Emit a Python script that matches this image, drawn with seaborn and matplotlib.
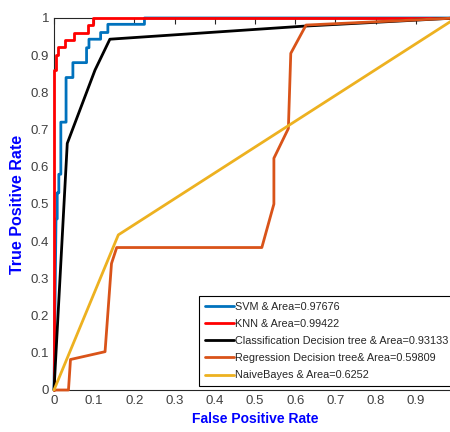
import pandas as pd
import matplotlib
matplotlib.use('Agg')
import matplotlib.pyplot as plt
import seaborn as sns

# curvas ROC
svm_fpr = [0, 0.005, 0.008, 0.008, 0.012, 0.012, 0.017, 0.017, 0.03, 0.03, 0.047, 0.047,
           0.081, 0.081, 0.087, 0.087, 0.116, 0.116, 0.134, 0.134, 0.225, 0.225, 1]
svm_tpr = [0, 0.46, 0.46, 0.53, 0.53, 0.58, 0.58, 0.72, 0.72, 0.84, 0.84, 0.88,
           0.88, 0.92, 0.92, 0.943, 0.943, 0.961, 0.961, 0.983, 0.983, 1, 1]

knn_fpr = [0, 0, 0.004, 0.004, 0.011, 0.011, 0.027, 0.027, 0.05, 0.05, 0.085, 0.085,
           0.096, 0.096, 1]
knn_tpr = [0, 0.86, 0.86, 0.9, 0.9, 0.923, 0.923, 0.94, 0.94, 0.961, 0.961, 0.98,
           0.98, 1, 1]

ctree_fpr = [0, 0.033, 0.102, 0.139, 0.62, 1]
ctree_tpr = [0, 0.663, 0.86, 0.943, 0.978, 1]

rtree_fpr = [0, 0.036, 0.041, 0.127, 0.143, 0.156, 0.517, 0.547, 0.547, 0.583, 0.589,
             0.627, 1]
rtree_tpr = [0, 0, 0.082, 0.103, 0.34, 0.383, 0.383, 0.5, 0.623, 0.703, 0.905,
             0.981, 1]

nb_fpr = [0, 0.16, 1]
nb_tpr = [0, 0.417, 1]

labels = ['SVM & Area=0.97676', 'KNN & Area=0.99422',
          'Classification Decision tree & Area=0.93133',
          'Regression Decision tree& Area=0.59809',
          'NaiveBayes & Area=0.6252']
colors = ['#0072BD', '#FF0000', '#000000', '#D95319', '#EDB120']

curvas = [(svm_fpr, svm_tpr), (knn_fpr, knn_tpr), (ctree_fpr, ctree_tpr),
          (rtree_fpr, rtree_tpr), (nb_fpr, nb_tpr)]
rows = []
for lab, (fx, fy) in zip(labels, curvas):
    for a, b in zip(fx, fy):
        rows.append({'modelo': lab, 'fpr': a, 'tpr': b})
df = pd.DataFrame(rows)

sns.set_style('white')
plt.rcParams['font.family'] = ['Liberation Sans', 'DejaVu Sans']

fig = plt.figure(figsize=(4.5, 4.32), dpi=100)
ax = fig.add_axes([54 / 450, 42 / 432, 402 / 450, 372 / 432])

for k, (lab, cor) in enumerate(zip(labels, colors)):
    sub = df[df['modelo'] == lab]
    sns.lineplot(data=sub, x='fpr', y='tpr', sort=False, estimator=None,
                 color=cor, linewidth=2, label=lab, ax=ax, zorder=3 + 0.1 * k)

# linhas por cima dos eixos, como no matlab
for ln in ax.lines:
    ln.set_clip_on(False)

ax.set_xlim(0, 1)
ax.set_ylim(0, 1)
ax.set_xticks([0, 0.1, 0.2, 0.3, 0.4, 0.5, 0.6, 0.7, 0.8, 0.9])
ax.set_xticklabels(['0', '0.1', '0.2', '0.3', '0.4', '0.5', '0.6', '0.7', '0.8', '0.9'])
ax.set_yticks([0, 0.1, 0.2, 0.3, 0.4, 0.5, 0.6, 0.7, 0.8, 0.9, 1])
ax.set_yticklabels(['0', '0.1', '0.2', '0.3', '0.4', '0.5', '0.6', '0.7', '0.8', '0.9', '1'])
ax.tick_params(direction='in', length=4, width=0.8, colors='#262626',
               labelsize=9.5, labelcolor='#404040', top=True, right=True)
for s in ax.spines.values():
    s.set_color('#262626')
    s.set_linewidth(0.8)

ax.set_xlabel('False Positive Rate', fontsize=10, fontweight='bold', color='#0000FF',
              labelpad=4)
ax.set_ylabel('True Positive Rate', fontsize=11.5, fontweight='bold', color='#0000FF',
              labelpad=4)

leg = ax.legend(loc='lower left', bbox_to_anchor=(0.361, 0.011), fontsize=7.85,
                frameon=True, fancybox=False, framealpha=1, edgecolor='#000000',
                handlelength=2.7, handletextpad=0.1, borderaxespad=0, borderpad=0.5,
                labelspacing=0.66)
leg.get_frame().set_linewidth(0.8)
leg.set_zorder(5)

fig.savefig('out.png', dpi=100)
